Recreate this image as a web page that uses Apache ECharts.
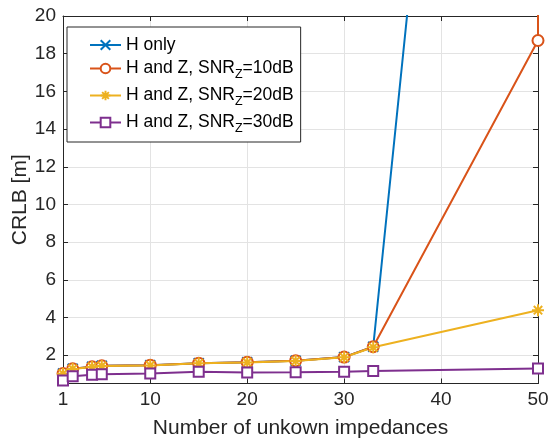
<!DOCTYPE html>
<html><head><meta charset="utf-8">
<script src="https://cdn.jsdelivr.net/npm/echarts@6/dist/echarts.min.js"></script>
<style>html,body{margin:0;padding:0;background:#fff}#c{width:548px;height:441px}</style>
</head><body><div id="c"></div>
<script>
const xVals = [1, 2, 4, 5, 10, 15, 20, 25, 30, 33, 50];
const hOnly = [1.03, 1.28, 1.39, 1.44, 1.47, 1.58, 1.63, 1.71, 1.9, 2.45, 88];
const snr10 = [1.03, 1.28, 1.39, 1.44, 1.47, 1.58, 1.63, 1.71, 1.9, 2.45, 18.7];
const snr10Tail = [[50, 40]];
const snr20 = [1.02, 1.27, 1.38, 1.43, 1.46, 1.57, 1.62, 1.70, 1.89, 2.42, 4.39];
const snr30 = [0.66, 0.88, 0.96, 0.99, 1.03, 1.12, 1.08, 1.10, 1.13, 1.16, 1.29];
const xTicks = [1, 10, 20, 30, 40, 50];
const yTicks = [2, 4, 6, 8, 10, 12, 14, 16, 18, 20];
const names = ['H only', 'H and Z, SNR{s|Z}=10dB', 'H and Z, SNR{s|Z}=20dB', 'H and Z, SNR{s|Z}=30dB'];

const C = ['#0072BD', '#D95319', '#EDB120', '#7E2F8E'];
const AX = '#262626';
const FONT = 'Liberation Sans, Arial, Helvetica, sans-serif';
const pairs = arr => xVals.map((x, i) => [x, arr[i]]);

const crossPath = 'path://M0,0L10,10M10,0L0,10';
const starPath = 'path://M5,0L5,10M0,5L10,5M1.5,1.5L8.5,8.5M8.5,1.5L1.5,8.5';

function mk(name, data, color, symbol, size) {
  return {
    name, type: 'line', data, symbol, symbolSize: size,
    xAxisIndex: 0, yAxisIndex: 0, clip: true,
    lineStyle: { color, width: 2 },
    itemStyle: { color, borderColor: color, borderWidth: 2 },
    emphasis: { disabled: true }, animation: false
  };
}

const series = [
  mk(names[0], pairs(hOnly), C[0], crossPath, 10),
  mk(names[1], pairs(snr10).concat(snr10Tail), C[1], 'emptyCircle', 11),
  mk(names[2], pairs(snr20), C[2], starPath, 12),
  mk(names[3], pairs(snr30), C[3], 'emptyRect', 10)
];

const chart = echarts.init(document.getElementById('c'), null, { renderer: 'canvas' });
const baseAxis = {
  axisLine: { show: true, lineStyle: { color: AX, width: 1 } },
  axisTick: { show: true, inside: true, length: 5, lineStyle: { color: AX } },
  axisLabel: { color: AX, fontSize: 19, fontFamily: FONT },
  splitLine: { show: false }
};
chart.setOption({
  animation: false,
  textStyle: { fontFamily: FONT },
  grid: { left: 63, right: 10, top: 16, bottom: 57.5, containLabel: false, outerBoundsMode: 'none' },
  legend: {
    left: 67, top: 27, orient: 'vertical',
    padding: [9, 7, 7, 22], itemGap: 5.5, itemWidth: 31, itemHeight: 12,
    backgroundColor: '#fff', borderColor: AX, borderWidth: 1, borderRadius: 0,
    data: names,
    textStyle: {
      fontSize: 17.5, color: '#000', fontFamily: FONT,
      rich: { s: { fontSize: 12.5, padding: [12, 0, 0, 0], fontFamily: FONT, color: '#000' } }
    }
  },
  xAxis: [
    Object.assign({}, baseAxis, {
      type: 'value', min: 1, max: 50, position: 'bottom',
      name: 'Number of unkown impedances', nameLocation: 'middle', nameGap: 34, nameMoveOverlap: false,
      nameTextStyle: { color: AX, fontSize: 21, fontFamily: FONT },
      axisTick: Object.assign({}, baseAxis.axisTick, { customValues: xTicks }),
      axisLabel: Object.assign({}, baseAxis.axisLabel, { customValues: xTicks, margin: 7 }),
      splitLine: { show: true, lineStyle: { color: '#e3e3e3', width: 1 } }
    }),
    Object.assign({}, baseAxis, {
      type: 'value', min: 1, max: 50, position: 'top',
      axisTick: Object.assign({}, baseAxis.axisTick, { customValues: xTicks }),
      axisLabel: { show: false }
    })
  ],
  yAxis: [
    Object.assign({}, baseAxis, {
      type: 'value', min: 0.5, max: 20, position: 'left',
      name: 'CRLB [m]', nameLocation: 'middle', nameGap: 32, nameRotate: 90, nameMoveOverlap: false,
      nameTextStyle: { color: AX, fontSize: 21, fontFamily: FONT },
      axisTick: Object.assign({}, baseAxis.axisTick, { customValues: yTicks }),
      axisLabel: Object.assign({}, baseAxis.axisLabel, { customValues: yTicks, margin: 7 }),
      splitLine: { show: true, lineStyle: { color: '#e3e3e3', width: 1 } }
    }),
    Object.assign({}, baseAxis, {
      type: 'value', min: 0.5, max: 20, position: 'right',
      axisTick: Object.assign({}, baseAxis.axisTick, { customValues: yTicks }),
      axisLabel: { show: false }
    })
  ],
  series
});
</script></body></html>
